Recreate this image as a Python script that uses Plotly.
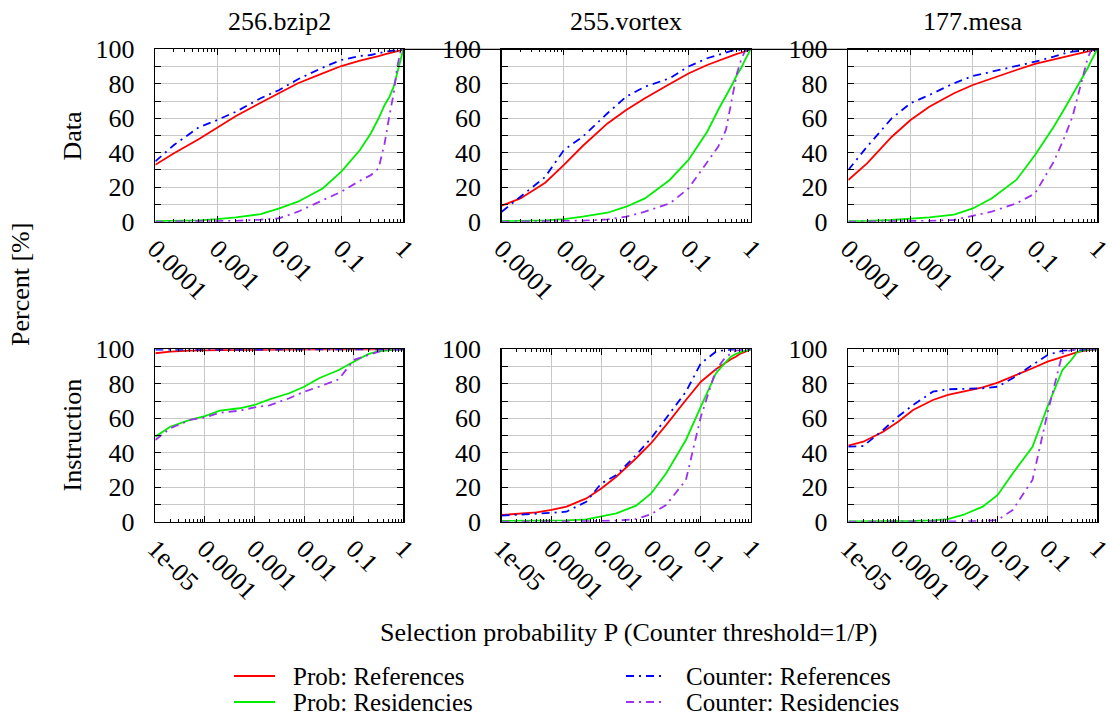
import plotly.graph_objects as go

# ---------------- data ----------------
P_top = [1e-4, 2e-4, 5e-4, 1e-3, 2e-3, 5e-3, 1e-2, 2e-2, 5e-2, 0.1, 0.2, 0.3, 0.4, 0.5, 0.6, 0.7, 0.8, 0.9, 1.0]
P_bot = [1e-5, 2e-5, 5e-5] + P_top

benchmarks = ["256.bzip2", "255.vortex", "177.mesa"]
row_names = ["Data", "Instruction"]
series_names = ["Prob: References", "Prob: Residencies", "Counter: References", "Counter: Residencies"]

top_tickvals = [1e-4, 1e-3, 1e-2, 0.1, 1]
top_ticktext = ["0.0001", "0.001", "0.01", "0.1", "1"]
bot_tickvals = [1e-5, 1e-4, 1e-3, 1e-2, 0.1, 1]
bot_ticktext = ["1e-05", "0.0001", "0.001", "0.01", "0.1", "1"]

# Data row
bzip2_data_prob_ref = [33, 39.7, 47.8, 54.7, 61.3, 69, 74.5, 80.3, 86, 90.3, 93.4, 94.8, 96.1, 97.1, 97.7, 98.3, 98.8, 99.4, 100]
bzip2_data_cnt_ref = [35, 44.5, 54.7, 59, 63.8, 71.6, 76.4, 82.6, 89.4, 93.8, 96.1, 96.7, 97.7, 98.6, 99, 99.3, 99.6, 99.8, 100]
bzip2_data_prob_res = [0.3, 0.5, 0.8, 1.5, 2.5, 4.4, 7.7, 11.6, 19.3, 29, 41.6, 51.3, 60, 67.7, 72.5, 78.3, 86, 92.8, 100]
bzip2_data_cnt_res = [0, 0.1, 0.2, 0.3, 0.5, 1.2, 2, 5.8, 12.6, 17.4, 23.8, 27, 31, 45.5, 62, 74.5, 90, 98.6, 100]

vortex_data_prob_ref = [9.3, 13.5, 22.6, 32.9, 43.9, 57, 64.8, 71.6, 79.9, 86, 90.9, 93.4, 94.8, 96.1, 97.3, 98, 98.8, 99.4, 100]
vortex_data_cnt_ref = [5.8, 14.5, 26, 41.6, 49.3, 62.9, 72.5, 78.3, 83.2, 90, 94.8, 96.7, 98, 99.2, 99.5, 99.7, 99.8, 99.9, 100]
vortex_data_prob_res = [0.3, 0.4, 0.8, 1.5, 2.9, 5.2, 8.7, 13.5, 24.2, 35.8, 52.2, 64.8, 72.5, 79.3, 85.1, 89, 93.4, 96.7, 100]
vortex_data_cnt_res = [0, 0.1, 0.2, 0.4, 0.6, 1.3, 2.9, 5.8, 10.6, 19.3, 34.8, 43.5, 53.2, 70.6, 86, 93.8, 98.6, 100, 100]

mesa_data_prob_ref = [24.2, 33.8, 49.3, 59, 66.7, 74.5, 79.3, 83.2, 88, 91.5, 94.2, 95.7, 96.7, 97.7, 98.3, 98.8, 99.2, 99.6, 100]
mesa_data_cnt_ref = [30, 43.5, 60, 68.7, 73.5, 80.3, 84.5, 87, 90, 92.8, 95.7, 97.7, 98.6, 99.2, 99.4, 99.6, 99.8, 99.9, 100]
mesa_data_prob_res = [0.3, 0.4, 1, 1.7, 2.5, 4.1, 7.7, 13.5, 24.2, 38.7, 55.1, 65.8, 73.5, 80.3, 85.1, 89, 93.4, 96.7, 100]
mesa_data_cnt_res = [0, 0.1, 0.2, 0.3, 0.5, 1, 3.3, 5.8, 10.6, 16.4, 34.8, 49.3, 61, 74.5, 86, 94.8, 99.6, 100, 100]

# Instruction row
bzip2_inst_prob_ref = [97.7, 98.6, 99.2, 99.5, 99.6, 99.7, 99.8, 99.8, 99.9, 99.9, 99.9, 99.9, 100, 100, 100, 100, 100, 100, 100, 100, 100, 100]
bzip2_inst_cnt_ref = [99.8, 99.8, 99.8, 99.8, 99.8, 99.8, 99.8, 99.8, 99.8, 99.8, 99.8, 99.9, 99.9, 99.9, 100, 100, 100, 100, 100, 100, 100, 100]
bzip2_inst_prob_res = [49.3, 55.1, 59, 61.3, 64.4, 65.8, 67.7, 71, 74.5, 78.3, 83.2, 88, 92.8, 97.3, 98.6, 99.2, 99.6, 99.7, 99.8, 99.9, 100, 100]
bzip2_inst_cnt_res = [47.4, 54.2, 59, 60.5, 63.2, 64.4, 66.3, 67.5, 71.6, 75.4, 78.3, 82.6, 93.8, 96.7, 98.6, 99.6, 99.8, 99.9, 100, 100, 100, 100]

vortex_inst_prob_ref = [3.9, 4.4, 5.4, 6.8, 8.7, 13.5, 19.3, 26.1, 36.8, 45.5, 56, 70.6, 81.2, 88.4, 91.9, 94.2, 95.7, 97.3, 98, 98.8, 99.4, 100]
vortex_inst_cnt_ref = [3.5, 3.9, 4.4, 5.2, 5.8, 11.6, 22.2, 27, 38.7, 48.4, 60, 75.4, 91.9, 98.6, 99.6, 100, 100, 100, 100, 100, 100, 100]
vortex_inst_prob_res = [0.4, 0.4, 0.4, 0.6, 0.8, 1.4, 2.9, 4.8, 9.3, 16.4, 28, 47.4, 66.7, 86, 91.9, 95.7, 97.3, 98.3, 98.8, 99.2, 99.6, 100]
vortex_inst_cnt_res = [0, 0, 0, 0.1, 0.2, 0.3, 0.5, 0.6, 1.5, 4.4, 9.7, 24.2, 61, 88, 94.8, 97.7, 99.2, 99.6, 99.8, 100, 100, 100]

mesa_inst_prob_ref = [44.1, 46.4, 52.2, 58, 64.8, 70.6, 73.5, 75.4, 77.9, 80.7, 84.1, 89, 92.8, 95.7, 97.3, 98.3, 99, 99.4, 99.6, 99.8, 99.9, 100]
mesa_inst_cnt_ref = [43.5, 43.9, 53.2, 61, 67.7, 75.4, 76.8, 77, 77.4, 78.3, 83.2, 90.9, 96.7, 99.2, 99.6, 99.8, 100, 100, 100, 100, 100, 100]
mesa_inst_prob_res = [0.2, 0.2, 0.3, 0.3, 0.4, 0.8, 1.5, 3.9, 8.7, 15.5, 28, 43.5, 66.7, 88, 93.8, 98.6, 99.4, 99.7, 99.8, 99.9, 100, 100]
mesa_inst_cnt_res = [0, 0, 0, 0, 0, 0, 0, 0.1, 0.3, 1, 6.8, 24.2, 63, 97.7, 99.6, 100, 100, 100, 100, 100, 100, 100]

panels = [
    (P_top, [bzip2_data_prob_ref, bzip2_data_prob_res, bzip2_data_cnt_ref, bzip2_data_cnt_res]),
    (P_top, [vortex_data_prob_ref, vortex_data_prob_res, vortex_data_cnt_ref, vortex_data_cnt_res]),
    (P_top, [mesa_data_prob_ref, mesa_data_prob_res, mesa_data_cnt_ref, mesa_data_cnt_res]),
    (P_bot, [bzip2_inst_prob_ref, bzip2_inst_prob_res, bzip2_inst_cnt_ref, bzip2_inst_cnt_res]),
    (P_bot, [vortex_inst_prob_ref, vortex_inst_prob_res, vortex_inst_cnt_ref, vortex_inst_cnt_res]),
    (P_bot, [mesa_inst_prob_ref, mesa_inst_prob_res, mesa_inst_cnt_ref, mesa_inst_cnt_res]),
]

# ---------------- styles ----------------
W, H = 1112, 717
FONT = "Liberation Serif, Times New Roman, serif"
FS = 26
colors = ["#ff0000", "#00ee00", "#0000ff", "#9b30f0"]
dashes = ["solid", "solid", "8px,5px,2px,5px", "8px,5px,2px,5px"]

col_px = [(155.3, 403.3), (501.7, 750.7), (848.3, 1097.3)]
row_px = [(49.3, 221.7), (349.3, 521.7)]

def xdom(c):
    return [col_px[c][0] / W, col_px[c][1] / W]

def ydom(r):
    return [1 - row_px[r][1] / H, 1 - row_px[r][0] / H]

fig = go.Figure()
layout = dict(
    width=W, height=H,
    margin=dict(l=0, r=0, t=0, b=0, autoexpand=False),
    paper_bgcolor="white", plot_bgcolor="white",
    font=dict(family=FONT, size=FS, color="black"),
    showlegend=False,
)

for i, (P, ys) in enumerate(panels):
    r, c = divmod(i, 3)
    k = i + 1
    xa = "x" if k == 1 else f"x{k}"
    ya = "y" if k == 1 else f"y{k}"
    for s in range(4):
        fig.add_trace(go.Scatter(
            x=P, y=ys[s], mode="lines", xaxis=xa, yaxis=ya,
            name=series_names[s], showlegend=False,
            line=dict(color=colors[s], width=1.8, dash=dashes[s]),
            hoverinfo="skip",
        ))
    if r == 0:
        tv, tt, rng = top_tickvals, top_ticktext, [-4, 0]
        minor_vals = [m * 10 ** e for e in range(-4, 0) for m in range(2, 10)]
    else:
        tv, tt, rng = bot_tickvals, bot_ticktext, [-5, 0]
        minor_vals = [m * 10 ** e for e in range(-5, 0) for m in range(2, 10)]
    layout["xaxis" if k == 1 else f"xaxis{k}"] = dict(
        domain=xdom(c), anchor=ya, type="log", range=rng, automargin=False,
        tickmode="array", tickvals=tv, ticktext=tt, tickangle=45,
        ticklabeloverflow="allow",
        ticks="inside", ticklen=6, tickcolor="black", tickwidth=1,
        showline=True, linecolor="black", linewidth=1.5, mirror="allticks",
        showgrid=True, gridcolor="#c8c8c8", gridwidth=1, zeroline=False,
        minor=dict(tickmode="array", tickvals=minor_vals, ticks="inside", ticklen=3,
                   tickcolor="black", showgrid=False),
        tickfont=dict(family=FONT, size=FS),
        ticklabelstandoff=0,
    )
    layout["yaxis" if k == 1 else f"yaxis{k}"] = dict(
        domain=ydom(r), anchor=xa, range=[0, 100], automargin=False,
        tickmode="linear", tick0=0, dtick=20,
        ticks="inside", ticklen=6, tickcolor="black", tickwidth=1,
        showline=True, linecolor="black", linewidth=1.5, mirror="allticks",
        showgrid=True, gridcolor="#c8c8c8", gridwidth=1, zeroline=False,
        minor=dict(dtick=10, ticks="inside", ticklen=6, tickcolor="black",
                   showgrid=True, gridcolor="#c8c8c8", gridwidth=1),
        tickfont=dict(family=FONT, size=FS),
        ticklabelstandoff=14,
    )

annotations = []
for c, name in enumerate(benchmarks):
    annotations.append(dict(text=name, x=(col_px[c][0] + col_px[c][1]) / 2 / W, y=1 - 22 / H,
                            xref="paper", yref="paper", showarrow=False,
                            xanchor="center", yanchor="middle", font=dict(size=FS)))
for r, name in enumerate(row_names):
    annotations.append(dict(text=name, x=72 / W, y=1 - ((row_px[r][0] + row_px[r][1]) / 2) / H,
                            xref="paper", yref="paper", showarrow=False, textangle=-90,
                            xanchor="center", yanchor="middle", font=dict(size=FS)))
annotations.append(dict(text="Percent [%]", x=20 / W, y=1 - 285 / H, xref="paper", yref="paper",
                        showarrow=False, textangle=-90, xanchor="center", yanchor="middle",
                        font=dict(size=FS)))
annotations.append(dict(text="Selection probability P (Counter threshold=1/P)", x=629 / W, y=1 - 632 / H,
                        xref="paper", yref="paper", showarrow=False,
                        xanchor="center", yanchor="middle", font=dict(size=FS)))

shapes = [dict(type="line", xref="paper", yref="paper",
               x0=403.3 / W, x1=1097.3 / W, y0=1 - 49.3 / H, y1=1 - 49.3 / H,
               line=dict(color="black", width=1.2))]

# manual key (legend): sample line + label per series
KFS = 25
key_pos = [(234, 275, 292, 676), (234, 275, 292, 702), (626, 662, 685, 676), (626, 662, 685, 702)]
for s in range(4):
    x0, x1, tx, ty = key_pos[s]
    shapes.append(dict(type="line", xref="paper", yref="paper",
                       x0=x0 / W, x1=x1 / W, y0=1 - ty / H, y1=1 - ty / H,
                       line=dict(color=colors[s], width=1.8, dash=dashes[s])))
    annotations.append(dict(text=series_names[s], x=tx / W, y=1 - ty / H, xref="paper", yref="paper",
                            showarrow=False, xanchor="left", yanchor="middle", borderpad=0,
                            font=dict(size=KFS)))

layout["annotations"] = annotations
layout["shapes"] = shapes

fig.update_layout(**layout)
fig.write_html("out.html", config={"displayModeBar": False, "staticPlot": True},
               post_script="document.body.style.margin='0';document.body.style.overflow='hidden';")
